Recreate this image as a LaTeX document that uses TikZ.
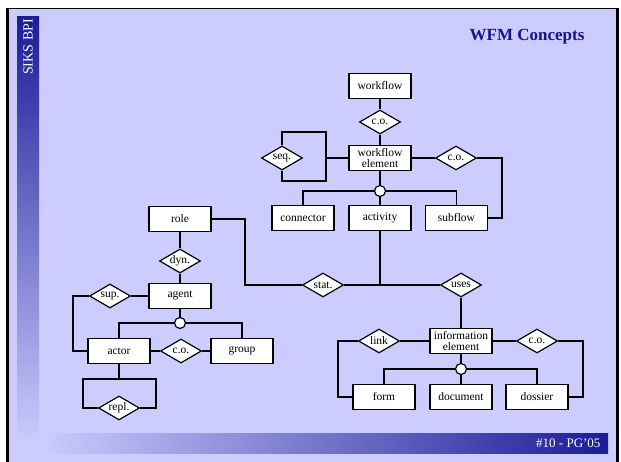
\documentclass[tikz,border=0pt]{standalone}
\usepackage{fontspec}
\setmainfont{Liberation Serif}
\usetikzlibrary{shapes.geometric}
\definecolor{lav}{HTML}{CCCCFF}
\definecolor{navy}{HTML}{1C1C96}
\definecolor{titleblue}{HTML}{14148C}
\begin{document}
\begin{tikzpicture}[x=1pt,y=-1pt,
  ent/.style={draw, fill=white, line width=1.2pt, minimum width=62pt, minimum height=25pt, inner sep=1pt, font=\fontsize{11.5}{11.5}\selectfont, align=center},
  rel/.style={draw, fill=white, diamond, aspect=1.7, line width=1.2pt, minimum width=41pt, minimum height=24pt, inner sep=0pt, font=\fontsize{11.5}{11.5}\selectfont},
  isa/.style={draw, fill=white, circle, line width=1.2pt, minimum size=11pt, inner sep=0pt},
  conn/.style={line width=1.2pt}]
\useasboundingbox (0,0) rectangle (621,462);
\fill[white] (0,0) rectangle (621,462);
\fill[lav] (8,8) rectangle (617,462);
\shade[top color=navy, bottom color=lav] (17,17) rectangle (39,445);
\shade[left color=lav, right color=navy] (40,433) rectangle (608,453);
\draw[line width=2.5pt] (7.5,8) -- (7.5,462);
\draw[line width=3pt] (617.5,8) -- (617.5,462);
\draw[line width=0.8pt] (6.5,8.4) -- (619,8.4);

\node[rotate=90, text=white, font=\fontsize{14}{14}\selectfont] (siks) at (28,47) {SIKS BPI};
\node[text=titleblue, font=\fontsize{17}{17}\selectfont\bfseries] (title) at (527,37) {WFM Concepts};
\node[anchor=east, text=white, font=\fontsize{13}{13}\selectfont] (foot) at (604,443) {\#10 - PG'05};

% nodes
\node[ent] (workflow) at (380,86) {workflow};
\node[rel] (coTop) at (380,122) {c.o.};
\node[ent] (we) at (380,158) {workflow\\element};
\node[rel] (seq) at (282,158) {seq.};
\node[rel] (coWE) at (456,158) {c.o.};
\node[isa] (circ1) at (380,191) {};
\node[ent] (connector) at (303,218) {connector};
\node[ent] (activity) at (380,218) {activity};
\node[ent] (subflow) at (456.5,218) {subflow};

\node[ent] (role) at (180,219) {role};
\node[rel] (dyn) at (180,261) {dyn.};
\node[ent] (agent) at (180,296) {agent};
\node[rel] (sup) at (110,296) {sup.};
\node[isa] (circ2) at (180,323) {};
\node[ent] (actor) at (119,351) {actor};
\node[rel] (coA) at (181,351) {c.o.};
\node[ent] (group) at (242,351) {group};
\node[rel] (repl) at (119,408) {repl.};

\node[rel] (stat) at (323,285) {stat.};
\node[rel] (uses) at (461,285) {uses};
\node[ent] (ie) at (461,341) {information\\element};
\node[rel] (link) at (379,341) {link};
\node[rel] (coIE) at (537,341) {c.o.};
\node[isa] (circ3) at (461,369) {};
\node[ent] (form) at (384,397) {form};
\node[ent] (document) at (461,397) {document};
\node[ent] (dossier) at (537,397) {dossier};

% helper coordinates
\coordinate (sqT) at (326,132);
\coordinate (sqB) at (326,181);
\coordinate (sqM) at (326,158);
\coordinate (sfC) at (502,218);
\coordinate (rc) at (245,285);
\coordinate (supc) at (73,351);
\coordinate (rl) at (83,379);
\coordinate (rr) at (156,379);
\coordinate (lc) at (338,397);
\coordinate (cc) at (583,397);

% connectors
\draw[conn] (workflow) -- (coTop) -- (we);
\draw[conn] (we) -- (circ1);
\draw[conn] (circ1.west) -| (connector.north);
\draw[conn] (circ1.east) -| (subflow.north);
\draw[conn] (circ1) -- (activity);
\draw[conn] (we.west) -- (sqM);
\draw[conn] (seq.north) |- (sqT) -- (sqB) -| (seq.south);
\draw[conn] (we.east) -- (coWE.west);
\draw[conn] (coWE.east) -| (sfC) -- (subflow.east);

\draw[conn] (role.east) -| (rc) -- (stat.west);
\draw[conn] (role) -- (dyn) -- (agent);
\draw[conn] (agent.west) -- (sup.east);
\draw[conn] (sup.west) -| (supc) -- (actor.west);
\draw[conn] (agent) -- (circ2);
\draw[conn] (circ2.west) -| (actor.north);
\draw[conn] (circ2.east) -| (group.north);
\draw[conn] (actor) -- (coA) -- (group);
\draw[conn] (actor.south) -- (actor.south |- rl);
\draw[conn] (repl.west) -| (rl) -- (rr) |- (repl.east);

\draw[conn] (stat.east) -- (uses.west);
\draw[conn] (activity.south) -- (activity.south |- stat.east);
\draw[conn] (uses) -- (ie);
\draw[conn] (link.east) -- (ie.west);
\draw[conn] (link.west) -| (lc) -- (form.west);
\draw[conn] (ie.east) -- (coIE.west);
\draw[conn] (coIE.east) -| (cc) -- (dossier.east);
\draw[conn] (ie) -- (circ3);
\draw[conn] (circ3.west) -| (form.north);
\draw[conn] (circ3) -- (document);
\draw[conn] (circ3.east) -| (dossier.north);
\end{tikzpicture}
\end{document}
